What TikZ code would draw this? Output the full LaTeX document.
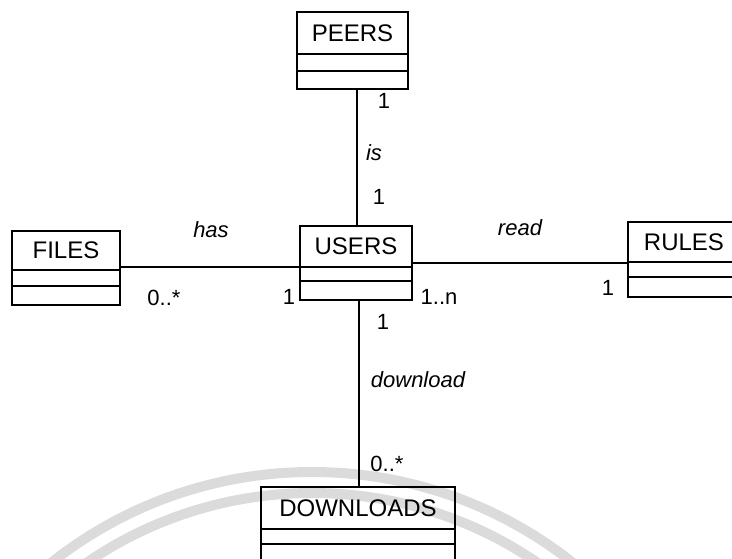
\documentclass[tikz,border=0pt]{standalone}
\usepackage{fontspec}
\setmainfont{Liberation Sans}
\usetikzlibrary{calc}
\tikzset{
  classbox/.style={draw, line width=1.8pt, inner sep=0pt},
  cname/.style={inner sep=0pt, font=\fontsize{24}{24}\selectfont},
  mult/.style={inner sep=0pt, font=\fontsize{22}{22}\selectfont},
  role/.style={inner sep=0pt, font=\fontsize{22}{22}\selectfont\itshape},
  link/.style={line width=1.5pt},
  compsep/.style={line width=1.5pt},
  seal/.style={draw=black!14, line width=10pt},
  sealray/.style={draw=black!15, line width=3.5pt, line cap=round}
}
% \umlclass{id}{x1}{y1}{x2}{y2}{first separator y}{second separator y}{name}
\newcommand{\umlclass}[8]{%
  \node[classbox, minimum width={#4-#2}, minimum height={#5-#3}]
    (#1) at ({(#2+#4)/2},{(#3+#5)/2}) {};
  \node[cname] (#1-name) at ({(#2+#4)/2},{(#3+#6)/2}) {#8};
  \draw[compsep] (#2,#6) -- (#4,#6);
  \draw[compsep] (#2,#7) -- (#4,#7);
}
\begin{document}
\begin{tikzpicture}[x=1pt,y=-1pt]
\useasboundingbox (0,0) rectangle (732,558);
\clip (0,0) rectangle (732,558);

% faint seal in the background
\coordinate (sealc) at (312,892);
\draw[seal] (sealc) circle[radius=420];
\draw[seal] (sealc) circle[radius=399];
\foreach \a in {70,72.5,...,110}
  \draw[sealray] ($(sealc)+(\a:318)$) -- ($(sealc)+(\a:352)$);

% classes
\umlclass{peers}{297}{12}{408}{89}{54}{71}{PEERS}
\umlclass{users}{300}{226}{412}{300}{267}{281}{USERS}
\umlclass{files}{12}{231}{120}{305}{270}{286}{FILES}
\umlclass{rules}{628}{222}{740}{297}{262}{277}{RULES}
\umlclass{downloads}{261}{487}{455}{572}{529}{544}{DOWNLOADS}

% association lines
\coordinate (vx1) at (357,0);
\coordinate (vx2) at (359,0);
\coordinate (hy1) at (0,267);
\coordinate (hy2) at (0,263);
\draw[link] (vx1 |- peers.south) -- (vx1 |- users.north);
\draw[link] (vx2 |- users.south) -- (vx2 |- downloads.north);
\draw[link] (hy1 -| files.east) -- (hy1 -| users.west);
\draw[link] (hy2 -| users.east) -- (hy2 -| rules.west);

% multiplicities and role names
\node[mult] (m-peers) at (384,101) {1};
\node[role] (r-is) at (374,153) {is};
\node[mult] (m-users-top) at (379,197) {1};
\node[role] (r-has) at (211,230) {has};
\node[mult] (m-files) at (164,298) {0..*};
\node[mult] (m-users-left) at (289,297) {1};
\node[mult] (m-users-right) at (439,297) {1..n};
\node[mult] (m-users-bottom) at (383,322) {1};
\node[role] (r-read) at (520,228) {read};
\node[mult] (m-rules) at (608,288) {1};
\node[role] (r-download) at (418,380) {download};
\node[mult] (m-downloads) at (387,464) {0..*};
\end{tikzpicture}
\end{document}
